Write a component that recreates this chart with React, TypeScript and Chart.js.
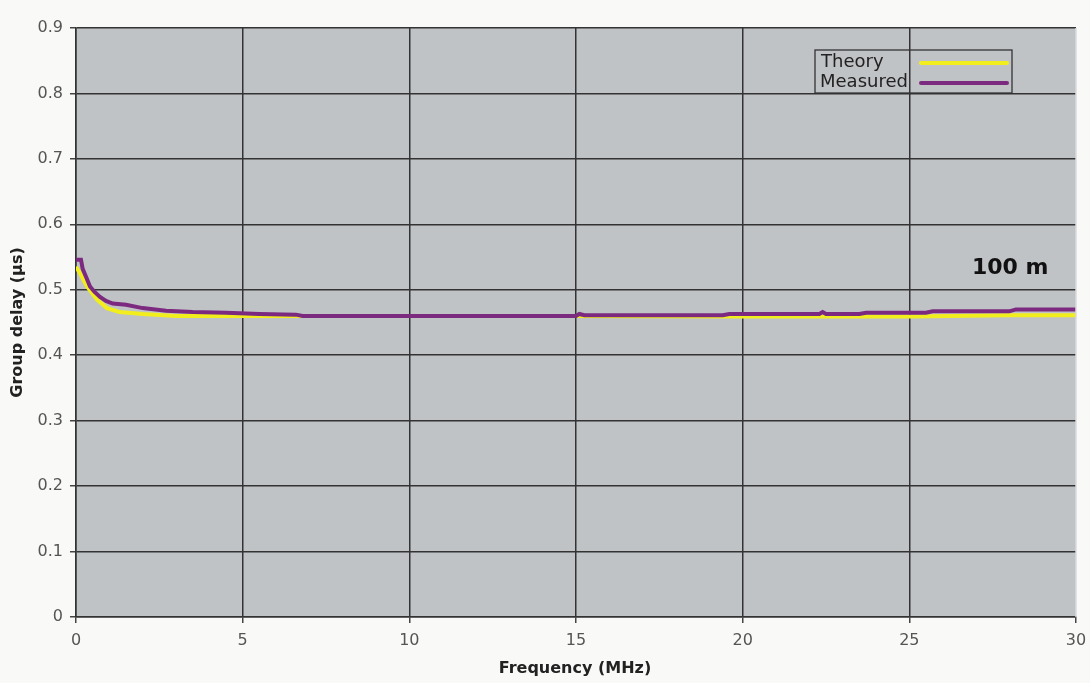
import React, { useEffect, useRef } from "react";
import { Chart, registerables } from "chart.js";

Chart.register(...registerables);

const xTickValues = [0, 5, 10, 15, 20, 25, 30];
const yTickValues = [0, 0.1, 0.2, 0.3, 0.4, 0.5, 0.6, 0.7, 0.8, 0.9];

const measuredFreq = [0, 0.15, 0.2, 0.3, 0.42, 0.55, 0.72, 0.9, 1.1, 1.5, 2.0, 2.7, 3.5, 4.5, 5.5, 6.6, 6.8, 15.0, 15.1, 15.25, 19.4, 19.6, 22.3, 22.4, 22.5, 23.5, 23.7, 25.5, 25.7, 28.0, 28.2, 30];
const measuredDelay = [0.546, 0.546, 0.532, 0.52, 0.505, 0.497, 0.489, 0.483, 0.479, 0.477, 0.472, 0.468, 0.466, 0.465, 0.463, 0.462, 0.46, 0.46, 0.463, 0.461, 0.461, 0.463, 0.463, 0.466, 0.463, 0.463, 0.465, 0.465, 0.467, 0.467, 0.47, 0.47];

const theoryFreq = [0, 0.1, 0.33, 0.63, 0.93, 1.3, 2.0, 3.0, 4.0, 6, 10, 15, 20, 25, 28, 30];
const theoryDelay = [0.535, 0.527, 0.505, 0.485, 0.472, 0.466, 0.463, 0.46, 0.46, 0.46, 0.46, 0.46, 0.459, 0.459, 0.461, 0.461];

const seriesLabels = ["Theory", "Measured"];
const annotationText = "100 m";
const xTitle = "Frequency (MHz)";
const yTitle = "Group delay (\u00b5s)";

const FONT = "'DejaVu Sans', Verdana, sans-serif";
const YELLOW = "#f2ee1e";
const PURPLE = "#7b2a7f";

const decorPlugin = {
  id: "decor",
  beforeDraw(chart: any) {
    const { ctx, chartArea: a, width, height } = chart;
    ctx.save();
    ctx.fillStyle = "#f9f9f7";
    ctx.fillRect(0, 0, width, height);
    ctx.fillStyle = "#c0c3c6";
    ctx.fillRect(a.left, a.top, a.right - a.left, a.bottom - a.top);
    ctx.restore();
  },
  afterDraw(chart: any) {
    const { ctx, chartArea: a } = chart;
    const xs = chart.scales.x;
    const ys = chart.scales.y;
    ctx.save();
    ctx.strokeStyle = "#d8dadc";
    ctx.lineWidth = 1.5;
    ctx.beginPath();
    ctx.moveTo(a.right, a.top);
    ctx.lineTo(a.right, a.bottom);
    ctx.stroke();

    const bx = 815, by = 50, bw = 197, bh = 43;
    ctx.strokeStyle = "#333";
    ctx.lineWidth = 1.3;
    ctx.strokeRect(bx, by, bw, bh);
    ctx.font = `18px ${FONT}`;
    ctx.fillStyle = "#222";
    ctx.textBaseline = "middle";
    ctx.textAlign = "left";
    ctx.fillText(seriesLabels[0], 821, 62);
    ctx.fillText(seriesLabels[1], 820, 82);
    ctx.lineWidth = 4;
    ctx.lineCap = "round";
    ctx.strokeStyle = YELLOW;
    ctx.beginPath();
    ctx.moveTo(921, 63);
    ctx.lineTo(1007, 63);
    ctx.stroke();
    ctx.strokeStyle = PURPLE;
    ctx.beginPath();
    ctx.moveTo(921, 83);
    ctx.lineTo(1007, 83);
    ctx.stroke();

    ctx.font = `bold 22px ${FONT}`;
    ctx.fillStyle = "#111";
    ctx.textAlign = "left";
    ctx.fillText(annotationText, 972, 268);

    ctx.font = `bold 16px ${FONT}`;
    ctx.fillStyle = "#222";
    ctx.textAlign = "center";
    ctx.fillText(xTitle, (xs.left + xs.right) / 2 - 1, 669);
    ctx.translate(18, (ys.top + ys.bottom) / 2);
    ctx.rotate(-Math.PI / 2);
    ctx.fillText(yTitle, 0, 0);
    ctx.restore();
  },
};

export default function App() {
  const ref = useRef<HTMLCanvasElement | null>(null);
  useEffect(() => {
    document.body.style.margin = "0";
    const canvas = ref.current!;
    const chart = new Chart(canvas, {
      type: "line",
      data: {
        datasets: [
          {
            label: seriesLabels[1],
            data: measuredFreq.map((f, i) => ({ x: f, y: measuredDelay[i] })),
            borderColor: PURPLE,
            borderWidth: 4,
            pointRadius: 0,
            tension: 0,
          },
          {
            label: seriesLabels[0],
            data: theoryFreq.map((f, i) => ({ x: f, y: theoryDelay[i] })),
            borderColor: YELLOW,
            borderWidth: 4,
            pointRadius: 0,
            tension: 0,
          },
        ],
      },
      options: {
        responsive: false,
        animation: false,
        layout: { padding: { left: 0, right: 14, top: 28, bottom: 0 } },
        plugins: { legend: { display: false }, tooltip: { enabled: false } },
        scales: {
          x: {
            type: "linear",
            min: 0,
            max: 30,
            afterBuildTicks: (s: any) => {
              s.ticks = xTickValues.map((v) => ({ value: v }));
            },
            afterFit: (s: any) => {
              s.height = 66;
              s.paddingRight = 0;
              s.paddingLeft = 0;
            },
            ticks: {
              color: "#555",
              font: { family: FONT, size: 16 },
              padding: 8,
              maxRotation: 0,
            },
            grid: {
              color: (c: any) => (c.tick && c.tick.value === 30 ? "rgba(0,0,0,0)" : "#333"),
              lineWidth: 1.5,
              tickLength: 6,
              tickColor: "#444",
            },
            border: { color: "#333", width: 1.5 },
          },
          y: {
            type: "linear",
            min: 0,
            max: 0.9,
            afterBuildTicks: (s: any) => {
              s.ticks = yTickValues.map((v) => ({ value: v }));
            },
            afterFit: (s: any) => {
              s.width = 76;
              s.paddingTop = 0;
              s.paddingBottom = 0;
            },
            ticks: {
              color: "#555",
              font: { family: FONT, size: 16 },
              padding: 7,
              callback: (v: any) => String(Number(Number(v).toFixed(1))),
            },
            grid: {
              color: "#333",
              lineWidth: 1.5,
              tickLength: 6,
              tickColor: "#444",
            },
            border: { color: "#333", width: 1.5 },
          },
        },
      },
      plugins: [decorPlugin],
    });
    return () => chart.destroy();
  }, []);
  return <canvas ref={ref} width={1090} height={683} style={{ display: "block" }} />;
}
